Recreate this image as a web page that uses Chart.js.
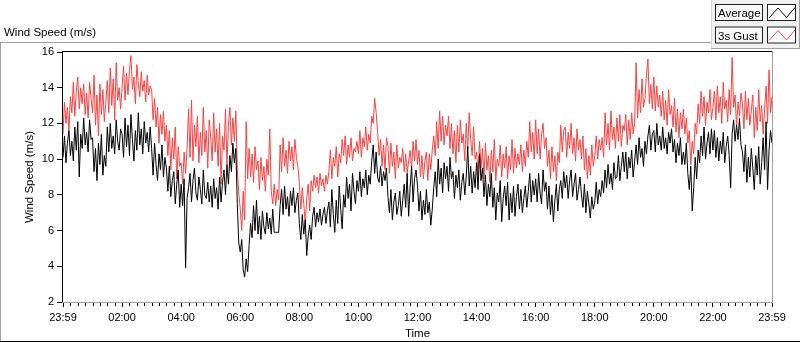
<!DOCTYPE html>
<html>
<head>
	<meta charset="utf-8"/>
	<title>Wind Speed</title>
	<script src="https://cdn.jsdelivr.net/npm/chart.js@4.4.0/dist/chart.umd.min.js"></script>
	<style>
		body { margin: 0; background: #fff; }
	</style>
</head>
<body>
	<canvas id="windChart" width="800" height="342"></canvas>

	<script>
		// one sample every 3 minutes, starting 23:59
		var stepMinutes = 3;
		var tickLabels = ['23:59', '02:00', '04:00', '06:00', '08:00', '10:00', '12:00',
			'14:00', '16:00', '18:00', '20:00', '22:00', '23:59'];
		var seriesNames = ['Average', '3s Gust'];

		var avgSpeed = [
			10.1, 11.3, 9.8, 10.9, 11.6, 10.2, 11.0, 9.9, 11.8, 10.5, 12.1, 9.0, 11.4, 10.6, 12.3, 10.8, 11.5, 10.4, 12.2, 11.1,
			11.2, 9.3, 10.6, 8.8, 10.9, 9.7, 11.4, 9.1, 10.2, 9.6, 11.8, 10.4, 12.0, 10.6, 11.3, 10.3, 12.2, 11.0, 10.5, 11.7,
			11.4, 10.1, 12.3, 10.7, 11.9, 10.2, 12.5, 11.1, 9.9, 11.6, 10.5, 12.6, 10.8, 11.7, 10.3, 12.1, 10.9, 11.5, 10.4, 11.8,
			10.6, 9.1, 10.9, 9.7, 8.8, 10.3, 9.4, 10.8, 9.0, 10.1, 9.5, 8.2, 9.6, 7.9, 8.8, 9.3, 7.5, 8.6, 9.4, 7.3,
			8.6, 7.4, 8.9, 3.9, 7.8, 8.4, 9.2, 7.6, 8.8, 9.5, 8.1, 7.7, 9.0, 8.3, 7.5, 9.4, 8.0, 7.8, 8.7, 7.6,
			8.5, 7.3, 8.9, 7.8, 8.4, 7.2, 9.0, 7.6, 8.7, 9.4, 8.0, 9.7, 8.6, 10.2, 9.3, 10.9, 9.8, 10.6, 7.5, 5.3,
			4.8, 5.5, 3.8, 3.4, 4.4, 3.7, 5.2, 6.4, 5.6, 7.4, 6.0, 7.7, 5.8, 6.8, 5.5, 7.1, 6.2, 5.8, 7.0, 6.1,
			6.7, 5.8, 7.2, 5.9, 5.9, 5.9, 5.9, 7.4, 8.3, 6.9, 8.5, 7.2, 7.9, 6.8, 8.2, 7.4, 8.4, 7.0, 7.7, 8.1,
			6.4, 5.5, 6.9, 5.8, 6.6, 4.6, 5.7, 6.3, 5.5, 6.8, 7.3, 6.2, 7.0, 6.5, 7.2, 6.3, 6.9, 7.3, 6.4, 7.1,
			7.6, 6.2, 8.3, 6.9, 5.9, 7.7, 6.4, 8.5, 7.2, 6.1, 8.0, 7.3, 9.0, 7.8, 8.6, 7.1, 9.2, 8.2, 7.5, 8.8,
			8.2, 9.3, 7.9, 8.9, 8.4, 9.4, 8.0, 9.1, 8.6, 9.9, 10.8, 9.2, 10.4, 9.0, 8.7, 9.6, 8.5, 9.3, 8.8, 9.5,
			7.9, 7.0, 8.3, 6.6, 7.6, 8.1, 6.9, 7.4, 8.2, 6.8, 7.7, 8.6, 7.3, 9.2, 6.8, 8.4, 9.6, 7.6, 8.9, 9.4,
			8.5, 7.1, 8.2, 6.6, 7.7, 6.9, 8.3, 7.0, 7.6, 6.3, 7.2, 8.4, 9.3, 7.9, 10.0, 8.6, 9.5, 8.1, 9.8, 8.9,
			9.6, 8.2, 10.1, 8.9, 9.3, 7.8, 9.1, 8.4, 9.4, 7.7, 8.7, 9.2, 8.0, 9.0, 10.7, 8.5, 9.6, 8.1, 9.3, 8.4,
			9.8, 8.3, 10.3, 8.8, 9.5, 7.9, 9.1, 7.4, 8.6, 7.9, 9.2, 7.3, 8.4, 6.6, 8.1, 7.6, 8.8, 6.5, 7.8, 8.5,
			7.4, 8.7, 6.6, 8.1, 7.0, 8.5, 6.8, 7.9, 8.6, 7.2, 8.3, 7.0, 7.8, 8.5, 7.3, 8.2, 9.2, 7.6, 8.8, 8.0,
			8.9, 7.6, 9.2, 8.1, 7.5, 9.4, 8.2, 8.7, 7.2, 8.5, 6.9, 8.0, 6.5, 7.7, 8.6, 7.1, 8.3, 8.8, 7.8, 9.3,
			8.4, 9.1, 7.8, 8.8, 9.4, 7.9, 8.6, 9.2, 7.7, 8.3, 9.0, 8.0, 7.3, 8.6, 7.0, 8.2, 7.5, 6.7, 7.9, 7.2,
			7.6, 8.7, 7.5, 8.3, 7.9, 8.8, 8.1, 9.4, 8.4, 9.7, 8.6, 9.2, 8.3, 9.8, 8.9, 9.0, 10.2, 8.8, 9.6, 10.4,
			9.3, 10.4, 8.9, 10.1, 9.5, 10.5, 9.0, 9.9, 10.8, 9.7, 11.2, 10.1, 10.6, 9.6, 11.0, 10.3, 11.3, 11.9, 10.5, 11.4,
			11.6, 10.4, 12.0, 10.8, 11.3, 10.5, 11.8, 10.6, 11.2, 10.3, 11.5, 10.9, 11.7, 10.4, 11.1, 9.8, 10.9, 10.2, 11.2, 9.7,
			10.4, 9.7, 10.9, 9.2, 8.3, 9.6, 7.1, 8.4, 10.1, 8.9, 10.5, 9.8, 11.3, 10.2, 11.8, 10.0, 10.9, 11.5, 10.3, 11.7,
			10.5, 11.6, 10.1, 11.2, 9.9, 11.0, 10.3, 11.5, 9.8, 10.7, 11.3, 10.2, 8.4, 11.4, 12.2, 11.0, 11.9, 11.1, 12.3, 10.8,
			10.4, 9.3, 10.8, 8.7, 10.1, 9.0, 10.6, 9.5, 8.3, 10.2, 9.1, 10.7, 8.6, 9.8, 11.2, 9.4, 12.1, 8.3, 10.5, 11.6, 10.9
		];

		var gustSpeed = [
			11.4, 13.2, 12.0, 12.9, 11.6, 13.5, 12.6, 14.3, 12.4, 13.8, 14.6, 12.8, 14.0, 13.1, 14.2, 12.5, 13.7, 12.3, 14.3, 13.4,
			12.6, 14.7, 11.9, 13.6, 11.3, 14.2, 12.5, 13.9, 12.1, 13.2, 14.4, 12.6, 15.1, 13.0, 14.5, 12.2, 15.4, 13.3, 14.0, 12.8,
			14.0, 15.2, 13.3, 14.8, 13.6, 15.0, 15.8, 13.9, 14.6, 13.1, 15.3, 14.2, 13.5, 14.9, 13.8, 14.4, 13.2, 14.7, 13.6, 14.1,
			13.9, 12.2, 13.4, 11.8, 12.9, 10.9, 12.5, 11.4, 12.7, 11.0, 11.9, 10.2, 11.6, 9.4, 11.2, 10.0, 11.8, 8.9, 10.7, 9.6,
			9.8, 8.6, 10.4, 9.2, 10.6, 12.8, 10.1, 13.3, 9.9, 11.9, 10.7, 12.4, 9.8, 11.5, 10.2, 12.9, 10.4, 11.6, 9.5, 12.2,
			11.2, 9.9, 12.6, 10.4, 11.7, 9.6, 12.0, 8.6, 11.3, 10.5, 12.8, 9.7, 11.9, 12.9, 10.8, 12.3, 11.0, 12.7, 9.4, 8.1,
			7.2, 6.0, 8.2, 6.6, 12.1, 8.9, 10.6, 9.0, 10.3, 8.7, 10.7, 9.4, 9.9, 8.3, 10.1, 8.8, 9.6, 8.2, 10.0, 9.1,
			11.7, 8.2, 7.5, 8.6, 7.4, 8.3, 7.7, 10.8, 9.3, 11.2, 9.6, 10.5, 9.2, 11.0, 9.9, 10.7, 9.4, 11.1, 10.1, 9.6,
			8.7, 7.2, 8.4, 7.5, 6.4, 7.8, 8.6, 7.1, 8.8, 8.2, 9.1, 8.4, 9.0, 8.1, 9.2, 8.5, 8.9, 8.2, 9.1, 8.6,
			9.3, 10.5, 8.9, 10.1, 9.6, 10.7, 9.0, 10.3, 9.8, 11.1, 10.2, 11.3, 9.7, 10.8, 10.1, 11.2, 9.9, 10.6, 10.4, 11.0,
			10.3, 11.6, 10.1, 11.2, 10.7, 11.8, 10.5, 11.4, 10.9, 12.4, 12.0, 13.4, 12.6, 11.5, 10.2, 11.1, 9.6, 10.8, 9.4, 11.2,
			10.7, 9.2, 10.9, 9.6, 10.4, 8.9, 10.8, 9.5, 10.1, 9.8, 10.6, 9.3, 10.3, 9.2, 9.9, 10.5, 9.4, 11.0, 9.9, 11.1,
			9.7, 10.5, 9.0, 10.2, 8.9, 9.9, 10.4, 8.8, 10.3, 9.4, 10.5, 11.3, 10.2, 12.1, 10.6, 12.7, 11.0, 12.4, 10.8, 11.9,
			11.3, 12.4, 10.6, 12.0, 10.3, 11.6, 9.8, 11.9, 10.4, 12.2, 10.9, 11.4, 9.9, 12.0, 10.5, 12.6, 11.1, 10.2, 11.8, 10.0,
			10.4, 9.1, 11.0, 9.5, 10.6, 8.9, 10.9, 9.4, 10.2, 8.7, 10.5, 9.3, 11.1, 8.8, 10.0, 9.6, 10.8, 9.0, 10.3, 9.5,
			10.7, 8.9, 10.2, 9.4, 11.1, 9.2, 10.6, 9.5, 10.3, 9.7, 10.8, 9.3, 10.5, 9.6, 11.0, 10.1, 12.1, 10.4, 11.5, 10.0,
			12.2, 10.3, 11.7, 10.0, 11.4, 12.0, 10.6, 11.2, 9.6, 10.5, 8.9, 10.7, 9.3, 10.2, 8.8, 10.4, 9.8, 11.9, 10.4, 11.6,
			11.8, 10.1, 11.5, 10.6, 12.0, 10.3, 11.2, 9.9, 11.7, 10.5, 11.1, 10.0, 11.3, 9.4, 10.6, 8.9, 10.2, 9.1, 10.8, 9.6,
			10.2, 11.3, 10.0, 11.1, 10.5, 11.2, 10.1, 12.6, 10.8, 12.0, 10.5, 12.7, 11.1, 11.8, 10.6, 12.3, 11.0, 12.5, 10.7, 11.9,
			11.6, 12.5, 10.8, 12.2, 11.1, 12.6, 11.4, 12.0, 15.4, 12.3, 13.9, 12.6, 14.5, 12.9, 13.4, 14.7, 15.6, 13.1, 14.2, 12.8,
			14.6, 12.7, 14.1, 12.9, 13.6, 12.4, 13.8, 12.2, 13.3, 11.9, 13.9, 12.5, 13.0, 11.8, 13.4, 11.5, 12.8, 11.2, 12.6, 11.7,
			12.8, 11.4, 12.3, 10.9, 11.6, 9.7, 11.0, 10.3, 12.0, 11.4, 13.1, 12.0, 13.8, 12.4, 13.5, 11.9, 13.2, 12.6, 13.9, 12.2,
			12.9, 13.8, 12.2, 14.1, 12.6, 13.5, 12.0, 14.3, 12.8, 13.3, 12.1, 13.9, 12.5, 15.7, 12.9, 13.6, 11.8, 13.2, 12.4, 13.7,
			13.1, 11.7, 13.8, 12.2, 13.4, 11.9, 12.7, 13.6, 11.2, 12.9, 11.6, 13.9, 12.1, 13.0, 11.4, 12.8, 14.1, 12.0, 15.0, 12.6, 13.5
		];

		var seriesColors = ['#000000', '#ff4040'];
		var fontFamily = '"Liberation Sans", Arial, sans-serif';

		function toPoints(values)
		{
			var pts = [];
			for (var i = 0; i < values.length; i++) {
				pts.push({x: i * stepMinutes, y: values[i]});
			}
			return pts;
		}

		// caption, frames, minor ticks and the LabVIEW style legend
		var panelPlugin = {
			id: 'panel',
			afterDraw: function(chart) {
				var ctx = chart.ctx;
				var area = chart.chartArea;
				var xs = chart.scales.x;
				ctx.save();

				// outer panel
				ctx.fillStyle = '#a0a0a0';
				ctx.fillRect(0, 42, 711, 1);
				ctx.fillRect(0, 42, 1, 300);
				ctx.fillStyle = '#000';
				ctx.fillRect(0, 341, 800, 1);

				// caption
				ctx.fillStyle = '#000';
				ctx.font = '11.5px ' + fontFamily;
				ctx.textBaseline = 'alphabetic';
				ctx.textAlign = 'left';
				ctx.fillText('Wind Speed (m/s)', 4, 36);

				// plot frame
				ctx.fillStyle = '#000';
				ctx.fillRect(area.left - 1, area.top - 1, area.right - area.left + 1, 1);
				ctx.fillRect(area.left - 1, area.top - 1, 1, area.bottom - area.top + 1);
				ctx.fillStyle = '#a0a0a0';
				ctx.fillRect(area.left - 1, area.bottom, area.right - area.left + 2, 1);
				ctx.fillRect(area.right, area.top - 1, 1, area.bottom - area.top + 2);

				// minor ticks every 15 minutes
				ctx.fillStyle = '#000';
				for (var m = 15; m < 1440; m += 15) {
					if (m % 120 === 0) continue;
					var px = Math.round(xs.getPixelForValue(m));
					ctx.fillRect(px, area.bottom + 1, 1, 3);
				}

				// legend
				ctx.fillStyle = '#f0f0f0';
				ctx.fillRect(711, 0, 89, 49);
				ctx.fillStyle = '#d8d8d8';
				ctx.fillRect(711, 0, 1, 49);
				ctx.fillStyle = '#a0a0a0';
				ctx.fillRect(711, 48, 89, 1);
				ctx.fillRect(799, 0, 1, 49);

				for (var k = 0; k < seriesNames.length; k++) {
					var top = 4 + k * 22.5;
					ctx.fillStyle = '#f8f8f8';
					ctx.fillRect(715, top, 48, 17);
					ctx.strokeStyle = '#202020';
					ctx.lineWidth = 1;
					ctx.strokeRect(715.5, top + 0.5, 47, 16);
					ctx.fillStyle = '#000';
					ctx.fillText(seriesNames[k], 718, top + 13);

					ctx.fillStyle = '#fff';
					ctx.fillRect(767, top, 29, 17);
					ctx.strokeStyle = '#202020';
					ctx.strokeRect(767.5, top + 0.5, 28, 16);

					ctx.strokeStyle = seriesColors[k];
					ctx.beginPath();
					ctx.moveTo(769, top + 14);
					ctx.lineTo(778, top + 4);
					ctx.lineTo(786.5, top + 13.5);
					ctx.lineTo(795, top + 3.5);
					ctx.stroke();
				}
				ctx.restore();
			}
		};

		var chart = new Chart(document.getElementById('windChart'), {
			type: 'line',
			data: {
				datasets: [
					{
						label: seriesNames[0],
						data: toPoints(avgSpeed),
						borderColor: seriesColors[0],
						borderWidth: 1
					},
					{
						label: seriesNames[1],
						data: toPoints(gustSpeed),
						borderColor: seriesColors[1],
						borderWidth: 1
					}
				]
			},
			options: {
				responsive: false,
				animation: false,
				layout: { padding: { left: 0, right: 28, top: 52, bottom: 0 } },
				elements: { point: { radius: 0 }, line: { tension: 0 } },
				plugins: {
					legend: { display: false },
					tooltip: { enabled: false }
				},
				scales: {
					x: {
						type: 'linear',
						min: 0,
						max: 1440,
						afterBuildTicks: function(scale) {
							scale.ticks = tickLabels.map(function(t, i) { return {value: i * 120}; });
						},
						afterFit: function(scale) { scale.height = 40; },
						ticks: {
							autoSkip: false,
							maxRotation: 0,
							padding: 4,
							color: '#000',
							font: { family: fontFamily, size: 11 },
							callback: function(v, i) { return tickLabels[i]; }
						},
						grid: { drawOnChartArea: false, tickLength: 5, tickColor: '#000' },
						border: { display: false },
						title: {
							display: true,
							text: 'Time',
							color: '#000',
							font: { family: fontFamily, size: 11.5 },
							padding: { top: 0, bottom: 1 }
						}
					},
					y: {
						min: 2,
						max: 16,
						afterFit: function(scale) { scale.width = 63; },
						ticks: {
							stepSize: 2,
							padding: 3,
							color: '#000',
							font: { family: fontFamily, size: 11 }
						},
						grid: { drawOnChartArea: false, tickLength: 6, tickColor: '#000' },
						border: { display: false },
						title: {
							display: true,
							text: 'Wind Speed (m/s)',
							color: '#000',
							font: { family: fontFamily, size: 11.5 },
							padding: { top: 23, bottom: 0 }
						}
					}
				}
			},
			plugins: [panelPlugin]
		});
	</script>
</body>
</html>
